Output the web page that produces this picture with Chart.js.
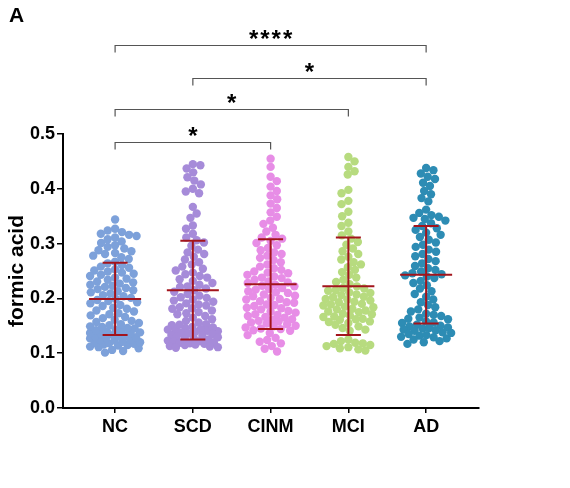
<!DOCTYPE html>
<html><head><meta charset="utf-8">
<script src="https://cdn.jsdelivr.net/npm/chart.js@4.4.1/dist/chart.umd.min.js"></script>
<style>html,body{margin:0;padding:0;background:#fff}#wrap{width:570px;height:488px;position:relative}</style>
</head><body><div id="wrap"><canvas id="c"></canvas></div>
<script>
const categories = ['NC', 'SCD', 'CINM', 'MCI', 'AD'];
const ncValues = [0.101,0.104,0.106,0.109,
0.111,0.112,0.114,0.115,0.116,0.117,0.118,0.119,
0.120,0.121,0.123,0.124,0.125,0.127,0.128,0.129,
0.130,0.131,0.132,0.133,0.135,0.136,0.137,0.138,0.139,
0.141,0.142,0.143,0.145,0.146,0.148,0.149,
0.151,0.153,0.155,0.157,0.159,
0.161,0.164,0.166,0.169,
0.171,0.173,0.176,0.178,
0.181,0.183,0.186,0.188,
0.191,0.193,0.195,0.197,0.199,
0.201,0.204,0.206,0.209,
0.211,0.213,0.215,0.217,0.219,
0.221,0.223,0.225,0.227,0.229,
0.231,0.234,0.236,0.238,
0.241,0.243,0.245,0.247,0.249,
0.251,0.253,0.256,0.258,
0.261,0.264,0.267,
0.272,0.275,0.278,
0.281,0.283,0.286,0.288,
0.291,0.294,0.297,
0.301,0.304,0.308,
0.311,0.314,0.316,0.318,
0.321,0.324,0.327,
0.344];
const scdValues = [0.445,0.443,0.437,0.430,0.421,0.415,0.408,0.400,0.395,0.392,
0.367,0.355,0.347,0.333,0.327,
0.318,0.311,0.306,0.302,
0.296,0.289,0.284,0.281,
0.276,0.271,0.266,0.262,
0.258,0.254,0.251,0.247,0.244,0.241,
0.238,0.235,0.232,0.228,0.225,0.222,0.221,
0.218,0.215,0.212,0.208,0.205,0.202,0.201,
0.198,0.194,0.191,0.187,0.184,0.181,0.196,0.189,0.182,0.173,
0.178,0.175,0.171,0.168,0.165,0.162,
0.159,0.156,0.153,0.151,0.148,0.146,0.144,0.142,0.141,0.140,0.152,0.147,0.143,
0.139,0.137,0.135,0.133,0.131,0.129,0.127,0.125,0.123,0.121,0.120,0.136,0.132,0.126,0.122,
0.119,0.117,0.115,0.113,0.111,0.110,0.118,0.116,0.112];
const cinmValues = [0.455,0.440,0.422,0.414,0.404,
0.396,0.388,0.381,0.373,
0.365,0.357,0.349,0.342,
0.336,0.329,0.322,0.316,0.311,
0.309,0.305,0.301,0.297,0.292,0.288,0.284,0.281,
0.278,0.274,0.270,0.266,0.262,0.258,0.255,0.252,
0.249,0.246,0.243,0.240,0.237,0.234,0.231,0.228,0.225,0.222,0.247,0.238,0.229,0.223,
0.219,0.216,0.213,0.210,0.207,0.204,0.201,0.198,0.195,0.192,0.217,0.211,0.205,0.199,0.193,
0.189,0.186,0.183,0.180,0.177,0.174,0.171,0.168,0.165,0.162,0.188,0.182,0.176,0.170,0.166,0.161,
0.159,0.156,0.153,0.150,0.147,0.144,0.141,0.158,0.154,0.149,0.145,0.142,
0.137,0.133,0.128,0.124,0.121,
0.118,0.113,0.108,0.103];
const mciValues = [0.458,0.450,0.440,0.432,0.426,
0.398,0.392,0.378,0.372,0.358,0.350,0.338,0.332,
0.322,0.315,0.309,0.303,0.298,0.291,0.286,0.281,
0.276,0.271,0.266,0.262,0.257,0.252,0.248,0.243,
0.238,0.234,0.230,0.226,0.222,0.218,0.214,0.210,0.206,0.202,
0.219,0.215,0.211,0.207,0.203,
0.199,0.196,0.193,0.190,0.187,0.184,0.181,0.178,0.175,0.172,0.169,0.166,0.163,0.161,
0.198,0.194,0.189,0.185,0.180,0.176,0.171,0.167,0.162,0.157,
0.158,0.155,0.152,0.149,0.146,0.143,0.141,
0.125,0.122,0.119,0.117,0.115,0.113,0.111,0.109,0.107,0.105,0.118];
const adValues = [0.438,0.434,0.428,0.422,0.418,0.411,0.405,
0.396,0.390,0.383,0.377,
0.362,0.356,0.352,0.349,0.347,0.345,0.342,
0.337,0.332,0.328,0.325,0.320,0.316,0.312,
0.307,0.302,0.298,0.294,0.289,0.285,0.281,
0.277,0.272,0.268,0.264,0.259,0.255,0.252,
0.249,0.246,0.244,0.242,0.240,0.237,0.232,0.228,0.224,
0.218,0.213,0.208,0.203,0.198,0.193,
0.188,0.184,0.180,0.176,0.172,0.168,0.165,0.162,0.163,0.170,
0.158,0.155,0.152,0.149,0.147,0.145,0.143,0.141,0.150,0.146,0.142,0.156,
0.138,0.135,0.132,0.129,0.127,0.125,0.122,0.120,0.117,0.137,0.133,0.130];
const groupValues = [ncValues, scdValues, cinmValues, mciValues, adValues];
const means = [0.199, 0.215, 0.226, 0.222, 0.243];
const sds = [0.066, 0.090, 0.082, 0.089, 0.089];
const yTicks = [0, 0.1, 0.2, 0.3, 0.4, 0.5];
const comparisons = [
  {from: 0, to: 2, label: '*'},
  {from: 0, to: 3, label: '*'},
  {from: 1, to: 4, label: '*'},
  {from: 0, to: 4, label: '****'}
];
const bracketLevels = [0.485, 0.545, 0.603, 0.663];

const colors = ['#7da1da', '#a68bd9', '#e78de6', '#b7db7f', '#2d8cb4'];
const FONT = "'Liberation Sans', Arial, sans-serif";
const ERR = '#a3141c';

const datasets = groupValues.map((vals, g) => ({
  label: categories[g],
  data: vals.map(v => ({x: g, y: v})),
  backgroundColor: colors[g],
  borderWidth: 0,
  pointRadius: 4.2,
  pointHoverRadius: 4.2
}));

const overlay = {
  id: 'overlay',
  afterDatasetsDraw(chart) {
    const ctx = chart.ctx, xs = chart.scales.x, ys = chart.scales.y;
    ctx.save();
    ctx.strokeStyle = ERR; ctx.lineWidth = 2;
    means.forEach((m, g) => {
      const cx = xs.getPixelForValue(g);
      const yM = ys.getPixelForValue(m);
      const yU = ys.getPixelForValue(m + sds[g]);
      const yL = ys.getPixelForValue(m - sds[g]);
      ctx.beginPath();
      ctx.moveTo(cx - 26, yM); ctx.lineTo(cx + 26, yM);
      ctx.moveTo(cx - 12.5, yU); ctx.lineTo(cx + 12.5, yU);
      ctx.moveTo(cx - 12.5, yL); ctx.lineTo(cx + 12.5, yL);
      ctx.moveTo(cx, yU); ctx.lineTo(cx, yL);
      ctx.stroke();
    });
    ctx.restore();
  },
  afterDraw(chart) {
    const ctx = chart.ctx, xs = chart.scales.x, ys = chart.scales.y;
    ctx.save();
    ctx.strokeStyle = '#555'; ctx.lineWidth = 1.2;
    ctx.fillStyle = '#000';
    ctx.font = 'bold 24px ' + FONT;
    ctx.textAlign = 'center'; ctx.textBaseline = 'alphabetic';
    comparisons.forEach((c, i) => {
      const x1 = xs.getPixelForValue(c.from), x2 = xs.getPixelForValue(c.to);
      const y = Math.round(ys.getPixelForValue(bracketLevels[i])) + 0.5;
      ctx.beginPath();
      ctx.moveTo(x1, y + 7); ctx.lineTo(x1, y); ctx.lineTo(x2, y); ctx.lineTo(x2, y + 7);
      ctx.stroke();
      const n = c.label.length, step = 11.3, mid = (x1 + x2) / 2;
      for (let k = 0; k < n; k++) {
        ctx.fillText('*', mid + (k - (n - 1) / 2) * step, y + 1);
      }
    });
    ctx.font = 'bold 21px ' + FONT;
    ctx.textAlign = 'left'; ctx.textBaseline = 'top';
    ctx.fillText('A', 9, 6);
    ctx.restore();
  }
};

const chart = new Chart(document.getElementById('c'), {
  type: 'scatter',
  data: {datasets},
  options: {
    responsive: true, maintainAspectRatio: false, animation: false,
    layout: {padding: {top: 134, right: 91, left: 0, bottom: 0}},
    plugins: {legend: {display: false}, tooltip: {enabled: false}},
    scales: {
      x: {
        type: 'linear', min: -0.67, max: 4.68,
        afterBuildTicks: s => { s.ticks = categories.map((_, i) => ({value: i})); },
        afterFit: s => { s.height = 80; },
        ticks: {autoSkip: false, callback: v => categories[v], color: '#000',
          font: {family: FONT, size: 18, weight: 'bold'}, padding: 3},
        grid: {drawOnChartArea: false, drawTicks: true, tickLength: 5, color: '#000', lineWidth: 1.5},
        border: {display: true, color: '#000', width: 2}
      },
      y: {
        min: 0, max: 0.5,
        afterBuildTicks: s => { s.ticks = yTicks.map(v => ({value: v})); },
        afterFit: s => { s.width = 63; },
        ticks: {callback: v => v.toFixed(1), color: '#000',
          font: {family: FONT, size: 18, weight: 'bold'}, padding: 2},
        grid: {drawOnChartArea: false, drawTicks: true, tickLength: 6, color: '#000', lineWidth: 1.5},
        border: {display: true, color: '#000', width: 2},
        title: {display: true, text: 'formic acid', color: '#000',
          font: {family: FONT, size: 21, weight: 'bold'}, padding: {top: 5, bottom: 0}}
      }
    }
  },
  plugins: [overlay]
});

// beeswarm layout (width-limited, overlapping like the original) computed from the library's scales
function swarmOffsets(pys, minDist, cap) {
  const order = pys.map((_, i) => i).sort((a, b) => pys[a] - pys[b]);
  const placed = [];
  const off = new Array(pys.length).fill(0);
  let flip = 1;
  for (const i of order) {
    const y = pys[i];
    const near = placed.filter(p => Math.abs(p.y - y) < minDist);
    const cands = [0];
    near.forEach(p => {
      const dx = Math.sqrt(minDist * minDist - (p.y - y) * (p.y - y));
      cands.push(p.x + dx, p.x - dx);
    });
    cands.sort((a, b) => Math.abs(a) - Math.abs(b) || flip * (a - b));
    let chosen = null;
    for (const c of cands) {
      if (Math.abs(c) > cap) break;
      if (near.every(p => (p.x - c) ** 2 + (p.y - y) ** 2 >= minDist * minDist - 0.01)) { chosen = c; break; }
    }
    if (chosen === null) {
      let best = 0, bestD = -1;
      for (let c = -cap; c <= cap; c += 0.5) {
        let d = Infinity;
        near.forEach(p => { d = Math.min(d, (p.x - c) ** 2 + (p.y - y) ** 2); });
        if (d > bestD) { bestD = d; best = c; }
      }
      chosen = best;
    }
    flip = -flip;
    off[i] = chosen;
    placed.push({x: chosen, y});
  }
  return off;
}
const xs = chart.scales.x, ysc = chart.scales.y;
const unit = xs.getPixelForValue(1) - xs.getPixelForValue(0);
groupValues.forEach((vals, g) => {
  const pys = vals.map(v => ysc.getPixelForValue(v));
  const off = swarmOffsets(pys, 7.6, 25);
  chart.data.datasets[g].data = vals.map((v, i) => ({x: g + off[i] / unit, y: v}));
});
chart.update('none');
</script></body></html>
